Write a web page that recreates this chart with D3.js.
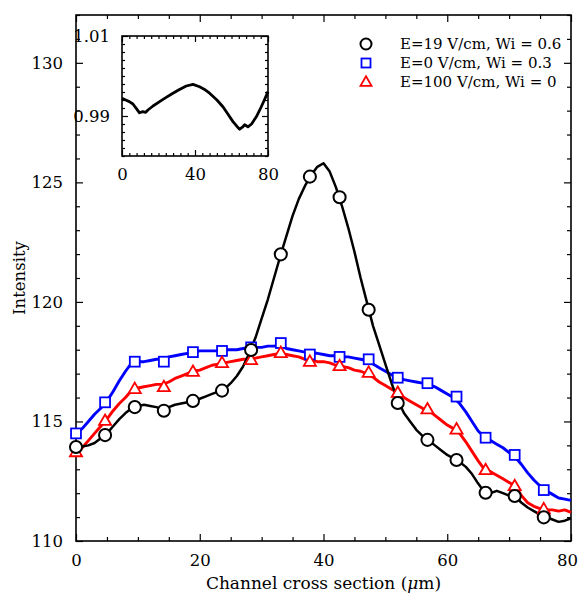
<!DOCTYPE html>
<html>
<head>
<meta charset="utf-8">
<script src="https://cdn.jsdelivr.net/npm/d3@7"></script>
<style>
  body { margin: 0; background: #fff; }
  svg { display: block; }
  text { font-family: "DejaVu Serif", "Liberation Serif", serif; fill: #000; }
</style>
</head>
<body>
<div id="chart"></div>
<script>
// sampled profile positions (µm)
const positions = [0,1,2,3,4,5,6,7,8,9,10,11,12,13,14,15,16,17,18,19,20,21,22,23,24,25,26,27,28,29,30,
  31,32,33,34,35,36,37,38,39,40,41,42,43,44,45,46,47,48,49,50,51,52,53,54,55,56,57,58,59,60,
  61,62,63,64,65,66,67,68,69,70,71,72,73,74,75,76,77,78,79,80];

// E=19 V/cm, Wi = 0.6
const blackLine = [113.93,113.95,114.0,114.1,114.3,114.5,114.8,115.1,115.35,115.55,115.65,115.7,115.65,115.6,115.5,115.6,
  115.7,115.75,115.8,115.85,115.95,116.05,116.15,116.25,116.35,116.6,116.9,117.3,117.85,118.5,119.3,
  120.1,121.0,121.9,122.75,123.6,124.3,124.85,125.3,125.65,125.8,125.45,124.8,124.0,123.1,122.1,
  121.0,120.0,119.0,118.2,117.4,116.6,115.9,115.35,115.0,114.65,114.4,114.2,114.0,113.8,113.6,
  113.45,113.3,113.1,112.8,112.4,112.05,112.0,112.1,112.0,111.9,111.85,111.6,111.4,111.25,111.1,
  111.0,110.9,110.8,110.85,110.95];

// E=0 V/cm, Wi = 0.3
const blueLine = [114.5,114.7,115.0,115.3,115.55,115.85,116.25,116.7,117.1,117.45,117.5,117.5,117.55,117.6,117.6,117.7,
  117.75,117.8,117.85,117.9,117.95,117.95,117.95,117.95,118.0,118.0,118.0,118.05,118.1,118.1,118.1,
  118.15,118.15,118.2,118.05,118.0,117.95,117.9,117.85,117.85,117.8,117.75,117.75,117.7,117.7,117.65,
  117.6,117.55,117.4,117.25,117.1,116.95,116.85,116.75,116.7,116.65,116.6,116.55,116.45,116.3,116.15,
  116.0,115.75,115.4,115.0,114.6,114.35,114.2,114.05,113.9,113.7,113.5,113.2,112.85,112.55,112.3,
  112.1,111.95,111.8,111.75,111.7];

// E=100 V/cm, Wi = 0
const redLine = [113.7,113.9,114.2,114.5,114.8,115.1,115.45,115.75,116.0,116.3,116.4,116.45,116.5,116.55,116.55,116.65,
  116.8,116.9,117.0,117.1,117.15,117.25,117.35,117.4,117.45,117.5,117.55,117.6,117.6,117.65,117.7,
  117.75,117.8,117.85,117.8,117.75,117.7,117.6,117.55,117.5,117.5,117.45,117.35,117.3,117.25,117.15,
  117.1,117.0,116.85,116.65,116.5,116.35,116.2,116.0,115.85,115.7,115.55,115.45,115.25,115.05,114.85,
  114.7,114.5,114.15,113.75,113.35,113.0,112.9,112.75,112.6,112.45,112.3,111.9,111.6,111.45,111.35,
  111.3,111.3,111.25,111.3,111.2];

// marker positions and values
const markerPos = [0, 4.7, 9.5, 14.2, 18.9, 23.6, 28.3, 33.1, 37.8, 42.6, 47.3, 52.0, 56.8, 61.5, 66.2, 70.9, 75.6];
const blackMarks = [113.93,114.43,115.6,115.45,115.86,116.29,117.99,121.99,125.24,124.38,119.67,115.77,114.23,113.39,112.02,111.88,110.99];
const blueMarks = [114.5,115.8,117.5,117.5,117.9,117.95,118.1,118.28,117.8,117.7,117.6,116.83,116.6,116.04,114.32,113.6,112.13];
const redMarks = [113.72,115.03,116.36,116.44,117.08,117.45,117.57,117.87,117.5,117.32,117.04,116.2,115.51,114.67,112.97,112.3,111.33];

// inset: intensity ratio
const insetPos = [0,2,4,6,8,9.6,11.4,13,14.2,17,20.6,24,27.9,31,35.2,38.9,42.5,45,48,52,55.3,58,60.8,63,64.5,66,67.2,69,71,73.6,76,78,80];
const insetRatio = [0.9944,0.9940,0.9936,0.9930,0.9918,0.9908,0.9911,0.9909,0.9915,0.9925,0.9936,0.9946,0.9957,0.9965,0.9975,0.9979,
  0.9973,0.9967,0.9957,0.9940,0.9923,0.9905,0.9886,0.9874,0.9867,0.9872,0.9878,0.9873,0.9880,0.9898,0.9920,0.9940,0.9961];

const xTicks = [0, 20, 40, 60, 80];
const yTicks = [110, 115, 120, 125, 130];
const insetXTicks = [0, 40, 80];
const insetYTicks = [0.99, 1.01];

const legendItems = [
  { label: 'E=19 V/cm, Wi = 0.6', color: '#000', shape: 'circle' },
  { label: 'E=0 V/cm, Wi = 0.3', color: '#0000ff', shape: 'square' },
  { label: 'E=100 V/cm, Wi = 0', color: '#ff0000', shape: 'triangle' }
];

const FONT = '"DejaVu Serif", "Liberation Serif", serif';
const W = 578, H = 594;
const margin = { top: 15, right: 7, bottom: 53, left: 76 };
const width = W - margin.left - margin.right;
const height = H - margin.top - margin.bottom;

const svg = d3.select('#chart').append('svg').attr('width', W).attr('height', H);
const g = svg.append('g').attr('transform', `translate(${margin.left},${margin.top})`);

const x = d3.scaleLinear().domain([0, 80]).range([0, width]);
const y = d3.scaleLinear().domain([110, 132]).range([height, 0]);

// framed axes with inward ticks
function frameAxes(sel, xs, ys, w, h, xt, yt, xMinor, yMinor, fmtY, major, minor, fs) {
  const style = ax => {
    ax.attr('font-family', FONT);
    ax.select('.domain').remove();
    ax.selectAll('line').attr('stroke', '#000').attr('stroke-width', 1.2);
    ax.selectAll('text').attr('font-size', fs + 'px').attr('fill', '#000');
  };
  sel.append('g').attr('transform', `translate(0,${h})`)
    .call(d3.axisBottom(xs).tickValues(xt).tickSize(-major).tickPadding(major + 6).tickFormat(d3.format('d')))
    .call(style);
  sel.append('g').attr('transform', `translate(0,${h})`)
    .call(d3.axisBottom(xs).tickValues(xMinor).tickSize(-minor).tickFormat('')).call(style);
  sel.append('g')
    .call(d3.axisTop(xs).tickValues(xt).tickSize(-major).tickFormat('')).call(style);
  sel.append('g')
    .call(d3.axisTop(xs).tickValues(xMinor).tickSize(-minor).tickFormat('')).call(style);
  sel.append('g')
    .call(d3.axisLeft(ys).tickValues(yt).tickSize(-major).tickPadding(major + 6).tickFormat(fmtY)).call(style);
  sel.append('g')
    .call(d3.axisLeft(ys).tickValues(yMinor).tickSize(-minor).tickFormat('')).call(style);
  sel.append('g').attr('transform', `translate(${w},0)`)
    .call(d3.axisRight(ys).tickValues(yt).tickSize(-major).tickFormat('')).call(style);
  sel.append('g').attr('transform', `translate(${w},0)`)
    .call(d3.axisRight(ys).tickValues(yMinor).tickSize(-minor).tickFormat('')).call(style);
  sel.append('rect').attr('width', w).attr('height', h)
    .attr('fill', 'none').attr('stroke', '#000').attr('stroke-width', 1.6);
}

const xMinor = d3.range(0, 81, 5).filter(v => !xTicks.includes(v));
const yMinor = d3.range(110, 133, 1).filter(v => !yTicks.includes(v));
frameAxes(g, x, y, width, height, xTicks, yTicks, xMinor, yMinor, d3.format('d'), 7, 4, 16.5);

// keep the last x label inside the page
g.selectAll('.tick text').filter(d => d === 80).attr('dx', '-4px');

// lines
const line = d3.line().x(d => x(d[0])).y(d => y(d[1]));
const series = [
  { vals: blueLine, marks: blueMarks, color: '#0000ff', shape: 'square', sw: 2.9 },
  { vals: redLine, marks: redMarks, color: '#ff0000', shape: 'triangle', sw: 2.9 },
  { vals: blackLine, marks: blackMarks, color: '#000', shape: 'circle', sw: 2.5 }
];

const plot = g.append('g');
series.forEach(s => {
  plot.append('path')
    .datum(positions.map((p, i) => [p, s.vals[i]]))
    .attr('fill', 'none')
    .attr('stroke', s.color)
    .attr('stroke-width', s.sw)
    .attr('stroke-linejoin', 'round')
    .attr('d', line);
});

function drawMarker(sel, shape, color, cx, cy, size) {
  if (shape === 'circle') {
    sel.append('circle').attr('cx', cx).attr('cy', cy).attr('r', size * 0.55)
      .attr('fill', '#fff').attr('stroke', color).attr('stroke-width', 2);
  } else if (shape === 'square') {
    const s = size * 0.9;
    sel.append('rect').attr('x', cx - s / 2).attr('y', cy - s / 2).attr('width', s).attr('height', s)
      .attr('fill', '#fff').attr('stroke', color).attr('stroke-width', 1.8);
  } else {
    const s = size * 1.1;
    const h = s * Math.sqrt(3) / 2;
    sel.append('path')
      .attr('d', `M${cx},${cy - h * 0.6}L${cx + s / 2},${cy + h * 0.4}L${cx - s / 2},${cy + h * 0.4}Z`)
      .attr('fill', '#fff').attr('stroke', color).attr('stroke-width', 1.8);
  }
}

series.forEach(s => {
  markerPos.forEach((p, i) => drawMarker(plot, s.shape, s.color, x(p), y(s.marks[i]), 11));
});

// legend
const legend = g.append('g').attr('transform', `translate(${366 - margin.left},${44 - margin.top})`);
legendItems.forEach((d, i) => {
  drawMarker(legend, d.shape, d.color, 0, i * 19, 10);
  legend.append('text').attr('x', 34).attr('y', i * 19).attr('dy', '0.35em')
    .attr('font-family', FONT).attr('font-size', '15px').text(d.label);
});

// inset
const inset = { left: 122, top: 36, width: 146, height: 120 };
const ig = svg.append('g').attr('transform', `translate(${inset.left},${inset.top})`);
ig.append('rect').attr('width', inset.width).attr('height', inset.height).attr('fill', '#fff');
const ix = d3.scaleLinear().domain([0, 80]).range([0, inset.width]);
const iy = d3.scaleLinear().domain([0.98, 1.01]).range([inset.height, 0]);

ig.append('path')
  .datum(insetPos.map((p, i) => [p, insetRatio[i]]))
  .attr('fill', 'none').attr('stroke', '#000').attr('stroke-width', 2.8)
  .attr('stroke-linejoin', 'round')
  .attr('d', d3.line().x(d => ix(d[0])).y(d => iy(d[1])));

const ixMinor = d3.range(0, 81, 4).filter(v => !insetXTicks.includes(v));
const iyMinor = d3.range(0, 16).map(k => 0.98 + k * 0.002).filter(v => Math.abs(v - 0.99) > 1e-6 && Math.abs(v - 1.01) > 1e-6);
frameAxes(ig, ix, iy, inset.width, inset.height, insetXTicks, insetYTicks, ixMinor, iyMinor, d3.format('.2f'), 6, 3, 16.5);

// axis titles
svg.append('text')
  .attr('x', margin.left + width / 2).attr('y', 589)
  .attr('text-anchor', 'middle').attr('font-size', '17px').attr('font-family', FONT)
  .html('Channel cross section (<tspan font-style="italic">μ</tspan>m)');

svg.append('text')
  .attr('transform', `translate(25,${margin.top + height / 2}) rotate(-90)`)
  .attr('text-anchor', 'middle').attr('font-size', '16.5px').attr('font-family', FONT)
  .text('Intensity');
</script>
</body>
</html>
